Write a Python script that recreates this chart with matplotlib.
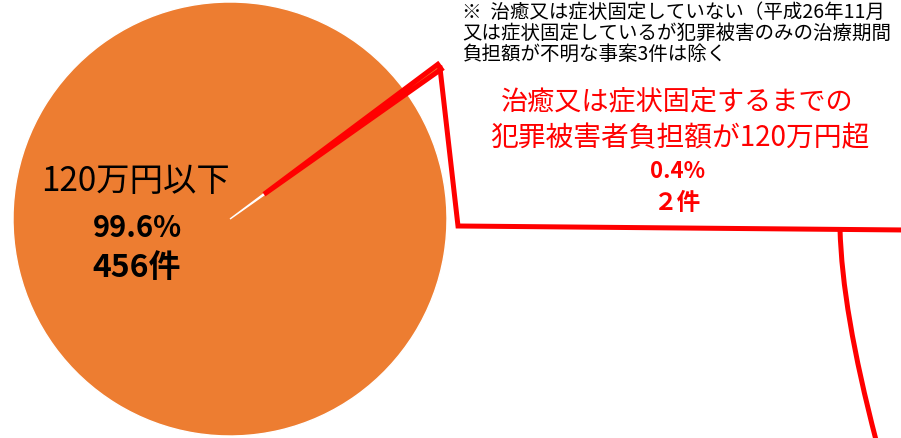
import numpy as np
import matplotlib.pyplot as plt
from matplotlib.path import Path
from matplotlib.patches import PathPatch

plt.rcParams['font.family'] = ['Noto Sans CJK JP', 'DejaVu Sans']

# data
counts = [2, 456]
shares = ['0.4%', '99.6%']
count_labels = ['２件', '456件']
categories = ['治癒又は症状固定するまでの\n犯罪被害者負担額が120万円超', '120万円以下']
note_lines = ['※  治癒又は症状固定していない（平成26年11月',
              '又は症状固定しているが犯罪被害のみの治療期間',
              '負担額が不明な事案3件は除く']

orange = '#ED7D31'
red = '#FF0000'
W, H = 901, 438

fig = plt.figure(figsize=(W / 100, H / 100), dpi=100)
ax = fig.add_axes([0, 0, 1, 1])

# pie in pixel units (y up); explode is in data units here
cx, cy, r = 230, H - 219, 217
small_deg = 360 * counts[0] / sum(counts)
wedges, _ = ax.pie(counts, center=(cx, cy), radius=r, startangle=36 - small_deg / 2,
                   colors=[orange, orange], explode=[42, 0],
                   wedgeprops=dict(linewidth=1, edgecolor='white'))
wedges[0].set_edgecolor(red)
wedges[0].set_linewidth(3.6)
wedges[0].set_zorder(3)

# callout outline
tip = (440, H - 68)
ax.plot([tip[0], 458, W + 5], [tip[1], H - 226, H - 230], color=red, lw=3.6,
        solid_joinstyle='miter', zorder=4)
curve = Path([(840, H - 229), (842, H - 310), (876, H - 440)],
             [Path.MOVETO, Path.CURVE3, Path.CURVE3])
ax.add_patch(PathPatch(curve, fill=False, edgecolor=red, lw=3.6, zorder=4))

ax.set_xlim(0, W)
ax.set_ylim(0, H)
ax.axis('off')

# big slice label
ax.text(136, H - 182, categories[1], ha='center', va='center', fontsize=24, color='black')
ax.text(137, H - 228, shares[1], ha='center', va='center', fontsize=21,
        fontweight='bold', color='black')
ax.text(137, H - 268, count_labels[1], ha='center', va='center', fontsize=23,
        fontweight='bold', color='black')

# small slice label
line1, line2 = categories[0].split('\n')
ax.text(677, H - 102, line1, ha='center', va='center', fontsize=19.5, color=red)
ax.text(680, H - 138, line2, ha='center', va='center', fontsize=20, color=red)
ax.text(678, H - 172, shares[0], ha='center', va='center', fontsize=16,
        fontweight='bold', color=red)
ax.text(678, H - 203, count_labels[0], ha='center', va='center', fontsize=17,
        fontweight='bold', color=red)

# note
ax.text(462, H - 2, '\n'.join(note_lines), ha='left', va='top', fontsize=14,
        linespacing=0.98, color='black')

fig.savefig('out.png', dpi=100)
